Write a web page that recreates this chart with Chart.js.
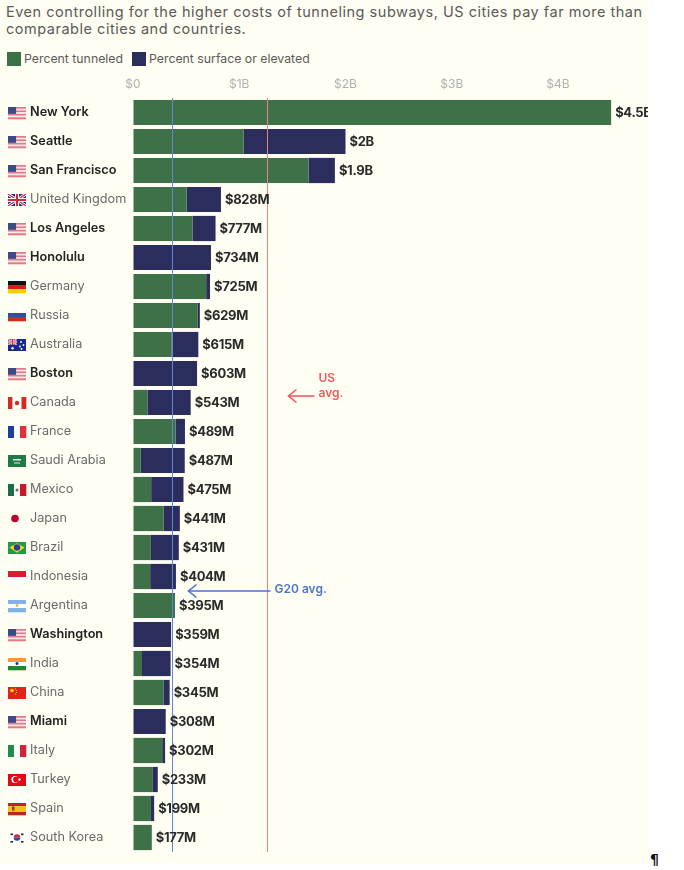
<!DOCTYPE html>
<html>
<head>
<meta charset="utf-8">
<script src="https://cdn.jsdelivr.net/npm/chart.js@4.4.1/dist/chart.umd.min.js"></script>
<style>
  html, body { margin: 0; padding: 0; background: #fff; }
  #wrap { position: relative; width: 648px; height: 863px; background: #fffef3; font-family: Inter, "Liberation Sans", sans-serif; overflow: hidden; }
  #title { position: absolute; left: 6px; top: 3px; font-size: 14.5px; letter-spacing: 0.52px; line-height: 17px; color: #5a5a5a; white-space: nowrap; }
  #legend { position: absolute; left: 7px; top: 51px; font-size: 12.3px; color: #5a5a5a; display: flex; align-items: center; }
  #legend span.sw { display: inline-block; width: 14px; height: 14px; margin-right: 3px; }
  #legend span.item { display: flex; align-items: center; margin-right: 9px; }
  #chartBox { position: absolute; left: 0; top: 70px; }
  #pil { position: absolute; left: 650px; top: 851px; font: bold 14px "DejaVu Sans", sans-serif; color: #111; }
</style>
</head>
<body>
<div id="wrap">
  <div id="title">Even controlling for the higher costs of tunneling subways, US cities pay far more than<br>comparable cities and countries.</div>
  <div id="legend">
    <span class="item"><span class="sw" style="background:#3e7148"></span>Percent tunneled</span>
    <span class="item"><span class="sw" style="background:#2b2d5c"></span>Percent surface or elevated</span>
  </div>
  <canvas id="chartBox" width="648" height="782"></canvas>
</div>
<div id="pil">¶</div>

<script>
// ---------- DATA (cost per km, $M) ----------
const cities = ["New York", "Seattle", "San Francisco", "United Kingdom", "Los Angeles", "Honolulu",
  "Germany", "Russia", "Australia", "Boston", "Canada", "France", "Saudi Arabia", "Mexico", "Japan",
  "Brazil", "Indonesia", "Argentina", "Washington", "India", "China", "Miami", "Italy", "Turkey",
  "Spain", "South Korea"];
const flags = ["us", "us", "us", "gb", "us", "us", "de", "ru", "au", "us", "ca", "fr", "sa", "mx", "jp",
  "br", "id", "ar", "us", "in", "cn", "us", "it", "tr", "es", "kr"];
const isUS = [true, true, true, false, true, true, false, false, false, true, false, false, false, false, false,
  false, false, false, true, false, false, true, false, false, false, false];
const totals = [4500, 2000, 1900, 828, 777, 734, 725, 629, 615, 603, 543, 489, 487, 475, 441,
  431, 404, 395, 359, 354, 345, 308, 302, 233, 199, 177];
const tunneledPct = [100, 52, 87, 61, 72, 0, 95, 97, 59, 0, 25, 82, 15, 36, 65,
  39, 40, 100, 0, 24, 83, 0, 91, 78, 85, 100];
const xTickValues = [0, 1000, 2000, 3000, 4000];
const xTickLabels = ["$0", "$1B", "$2B", "$3B", "$4B"];
const usAvg = 1260;
const g20Avg = 365;

const tunneled = totals.map((t, i) => t * tunneledPct[i] / 100);
const surface = totals.map((t, i) => t - tunneled[i]);

const FONT = 'Inter, "Liberation Sans", sans-serif';
const GREEN = "#3e7148";
const NAVY = "#2b2d5c";

function fmtTotal(v) {
  if (v >= 1000) return "$" + (v / 1000).toFixed(1).replace(/\.0$/, "") + "B";
  return "$" + v + "M";
}

// ---------- FLAGS ----------
function bandsH(ctx, x, y, w, h, cols, weights) {
  weights = weights || cols.map(() => 1);
  const sum = weights.reduce((a, b) => a + b, 0);
  let yy = y;
  cols.forEach((c, i) => {
    const hh = h * weights[i] / sum;
    ctx.fillStyle = c; ctx.fillRect(x, yy, w, hh + 0.3); yy += hh;
  });
}
function bandsV(ctx, x, y, w, h, cols, weights) {
  weights = weights || cols.map(() => 1);
  const sum = weights.reduce((a, b) => a + b, 0);
  let xx = x;
  cols.forEach((c, i) => {
    const ww = w * weights[i] / sum;
    ctx.fillStyle = c; ctx.fillRect(xx, y, ww + 0.3, h); xx += ww;
  });
}
function dot(ctx, cx, cy, r, c) {
  ctx.fillStyle = c; ctx.beginPath(); ctx.arc(cx, cy, r, 0, Math.PI * 2); ctx.fill();
}
function unionJack(ctx, x, y, w, h) {
  ctx.save();
  ctx.beginPath(); ctx.rect(x, y, w, h); ctx.clip();
  ctx.fillStyle = "#22307a"; ctx.fillRect(x, y, w, h);
  ctx.strokeStyle = "#fff"; ctx.lineWidth = h / 4;
  ctx.beginPath(); ctx.moveTo(x, y); ctx.lineTo(x + w, y + h); ctx.moveTo(x + w, y); ctx.lineTo(x, y + h); ctx.stroke();
  ctx.strokeStyle = "#cf2a3a"; ctx.lineWidth = h / 10;
  ctx.beginPath(); ctx.moveTo(x, y); ctx.lineTo(x + w, y + h); ctx.moveTo(x + w, y); ctx.lineTo(x, y + h); ctx.stroke();
  ctx.fillStyle = "#fff";
  ctx.fillRect(x + w / 2 - h / 6, y, h / 3, h); ctx.fillRect(x, y + h / 3, w, h / 3);
  ctx.fillStyle = "#cf2a3a";
  ctx.fillRect(x + w / 2 - h / 12, y, h / 6, h); ctx.fillRect(x, y + h / 2 - h / 12, w, h / 6);
  ctx.restore();
}
function drawFlag(ctx, code, x, cy) {
  const w = 18, h = 12, y = Math.round(cy - h / 2);
  switch (code) {
    case "us": {
      for (let s = 0; s < 7; s++) {
        ctx.fillStyle = s % 2 === 0 ? "#e27a85" : "#fbe9ea";
        ctx.fillRect(x, y + s * h / 7, w, h / 7 + 0.3);
      }
      ctx.fillStyle = "#3d4a85"; ctx.fillRect(x, y, w * 0.45, h * 4 / 7);
      break;
    }
    case "gb": unionJack(ctx, x, y, w, h); break;
    case "de": bandsH(ctx, x, y, w, h, ["#111", "#dd1c1c", "#ffcc00"]); break;
    case "ru": bandsH(ctx, x, y, w, h, ["#ffffff", "#2a4fb0", "#d52b1e"]); break;
    case "au": {
      ctx.fillStyle = "#1a2a8f"; ctx.fillRect(x, y, w, h);
      unionJack(ctx, x, y, w / 2, h / 2);
      dot(ctx, x + 4.5, y + 9.3, 1.2, "#fff");
      dot(ctx, x + 13, y + 3, 0.9, "#fff"); dot(ctx, x + 15.5, y + 6, 0.9, "#fff");
      dot(ctx, x + 12, y + 7.5, 0.9, "#fff"); dot(ctx, x + 13.5, y + 10, 0.9, "#fff");
      break;
    }
    case "ca": {
      bandsV(ctx, x, y, w, h, ["#d52b1e", "#ffffff", "#d52b1e"], [1, 2, 1]);
      dot(ctx, x + w / 2, y + h / 2, 2.2, "#d52b1e");
      break;
    }
    case "fr": bandsV(ctx, x, y, w, h, ["#1a3fa0", "#ffffff", "#e0303a"]); break;
    case "sa": {
      ctx.fillStyle = "#1f7a45"; ctx.fillRect(x, y, w, h);
      ctx.fillStyle = "rgba(255,255,255,0.85)"; ctx.fillRect(x + 5, y + 4, 8, 1.5); ctx.fillRect(x + 6, y + 7.5, 6, 1);
      break;
    }
    case "mx": {
      bandsV(ctx, x, y, w, h, ["#1a6e46", "#ffffff", "#c9182c"]);
      dot(ctx, x + w / 2, y + h / 2, 1.6, "#8a6a3a");
      break;
    }
    case "jp": dot(ctx, x + 7, cy, 3.8, "#bc002d"); break;
    case "br": {
      ctx.fillStyle = "#1f9a45"; ctx.fillRect(x, y, w, h);
      ctx.fillStyle = "#f7d81e"; ctx.beginPath();
      ctx.moveTo(x + 1.5, cy); ctx.lineTo(x + w / 2, y + 1.2); ctx.lineTo(x + w - 1.5, cy); ctx.lineTo(x + w / 2, y + h - 1.2);
      ctx.closePath(); ctx.fill();
      dot(ctx, x + w / 2, cy, 3.2, "#2a3f8f");
      break;
    }
    case "id": bandsH(ctx, x, y, w, h, ["#e0182b", "#ffffff"]); break;
    case "ar": {
      bandsH(ctx, x, y, w, h, ["#7fb3e6", "#ffffff", "#7fb3e6"]);
      dot(ctx, x + w / 2, cy, 1.4, "#e8b83a");
      break;
    }
    case "in": {
      bandsH(ctx, x, y, w, h, ["#f7993a", "#ffffff", "#1d8a2a"]);
      dot(ctx, x + w / 2, cy, 1.5, "#23307a");
      break;
    }
    case "cn": {
      ctx.fillStyle = "#e2231a"; ctx.fillRect(x, y, w, h);
      dot(ctx, x + 4, y + 3.5, 1.8, "#ffde00");
      dot(ctx, x + 7.5, y + 1.8, 0.6, "#ffde00"); dot(ctx, x + 8.5, y + 3.5, 0.6, "#ffde00");
      dot(ctx, x + 8.5, y + 5.5, 0.6, "#ffde00"); dot(ctx, x + 7.5, y + 7, 0.6, "#ffde00");
      break;
    }
    case "it": bandsV(ctx, x, y, w, h, ["#1f8a4a", "#ffffff", "#c8283a"]); break;
    case "tr": {
      ctx.fillStyle = "#e30a17"; ctx.fillRect(x, y, w, h);
      dot(ctx, x + 7, cy, 3.6, "#fff");
      dot(ctx, x + 8, cy, 2.9, "#e30a17");
      dot(ctx, x + 11.5, cy, 1.2, "#fff");
      break;
    }
    case "es": {
      bandsH(ctx, x, y, w, h, ["#c2202a", "#f4bf1f", "#c2202a"], [1, 2, 1]);
      ctx.fillStyle = "#a4302a"; ctx.fillRect(x + 4, cy - 2, 2.5, 4);
      break;
    }
    case "kr": {
      ctx.fillStyle = "#ffffff"; ctx.fillRect(x, y, w, h);
      ctx.fillStyle = "#cd2e3a"; ctx.beginPath(); ctx.arc(x + w / 2, cy, 3.3, Math.PI, 0); ctx.fill();
      ctx.fillStyle = "#2b4aa0"; ctx.beginPath(); ctx.arc(x + w / 2, cy, 3.3, 0, Math.PI); ctx.fill();
      ctx.fillStyle = "#222";
      ctx.fillRect(x + 2.5, y + 1.5, 2.5, 1.6); ctx.fillRect(x + 13, y + 1.5, 2.5, 1.6);
      ctx.fillRect(x + 2.5, y + 9, 2.5, 1.6); ctx.fillRect(x + 13, y + 9, 2.5, 1.6);
      break;
    }
  }
}

// ---------- ANNOTATIONS, VALUE LABELS, FLAGS ----------
function arrowLeft(ctx, x1, x2, y, color) {
  ctx.strokeStyle = color; ctx.lineWidth = 1.6;
  ctx.beginPath(); ctx.moveTo(x2, y); ctx.lineTo(x1, y); ctx.stroke();
  ctx.beginPath(); ctx.moveTo(x1 + 8, y - 6.5); ctx.lineTo(x1, y); ctx.lineTo(x1 + 8, y + 6.5); ctx.stroke();
}

const decorPlugin = {
  id: "decor",
  afterDatasetsDraw(chart) {
    const { ctx, chartArea, scales } = chart;
    const xs = scales.x, ys = scales.y;
    ctx.save();

    // average lines
    const usX = Math.round(xs.getPixelForValue(usAvg)) + 0.5;
    const gX = Math.round(xs.getPixelForValue(g20Avg)) + 0.5;
    ctx.lineWidth = 1;
    ctx.strokeStyle = "#ee7f80";
    ctx.beginPath(); ctx.moveTo(usX, chartArea.top); ctx.lineTo(usX, chartArea.bottom); ctx.stroke();
    ctx.strokeStyle = "#5f86d8";
    ctx.beginPath(); ctx.moveTo(gX, chartArea.top); ctx.lineTo(gX, chartArea.bottom); ctx.stroke();

    // US avg annotation (between Boston and Canada)
    const usMid = (ys.getPixelForValue(9) + ys.getPixelForValue(10)) / 2;
    ctx.fillStyle = "#ef5b5f";
    ctx.font = "600 12px " + FONT;
    ctx.textBaseline = "middle"; ctx.textAlign = "left";
    ctx.fillText("US", usX + 51, usMid - 10);
    ctx.fillText("avg.", usX + 51, usMid + 5);
    arrowLeft(ctx, usX + 21, usX + 47, usMid + 8, "#ef5b5f");

    // G20 avg annotation (between Indonesia and Argentina)
    const gMid = (ys.getPixelForValue(16) + ys.getPixelForValue(17)) / 2;
    ctx.fillStyle = "#4a72cf";
    ctx.fillText("G20 avg.", gX + 102, gMid - 2);
    arrowLeft(ctx, gX + 16, gX + 98, gMid, "#4a72cf");

    // value labels
    ctx.fillStyle = "#2a2a2a";
    ctx.font = "bold 13px " + FONT;
    ctx.letterSpacing = "-0.3px";
    totals.forEach((t, i) => {
      ctx.fillText(fmtTotal(t), xs.getPixelForValue(t) + 4, ys.getPixelForValue(i) + 0.5);
    });
    ctx.letterSpacing = "0px";

    // flags
    flags.forEach((f, i) => drawFlag(ctx, f, 8, ys.getPixelForValue(i)));
    ctx.restore();
  }
};

// ---------- CHART ----------
new Chart(document.getElementById("chartBox"), {
  type: "bar",
  data: {
    labels: cities,
    datasets: [
      { label: "Percent tunneled", data: tunneled, backgroundColor: GREEN, borderWidth: 0,
        barPercentage: 0.87, categoryPercentage: 1 },
      { label: "Percent surface or elevated", data: surface, backgroundColor: NAVY, borderWidth: 0,
        barPercentage: 0.87, categoryPercentage: 1 }
    ]
  },
  options: {
    indexAxis: "y",
    responsive: false,
    animation: false,
    devicePixelRatio: 1,
    layout: { padding: { left: 30, right: 5, top: 0, bottom: 0 } },
    plugins: { legend: { display: false }, tooltip: { enabled: false } },
    scales: {
      x: {
        position: "top",
        stacked: true,
        min: 0,
        max: 4800,
        bounds: "data",
        z: 1,
        border: { display: false },
        grid: { color: "rgba(255,255,255,0.45)", drawTicks: false, lineWidth: 1 },
        afterBuildTicks: s => { s.ticks = xTickValues.map(v => ({ value: v })); },
        ticks: {
          padding: 6,
          color: "#b0b0b0",
          font: { size: 12, family: FONT },
          callback: (v, i) => xTickLabels[i]
        },
        afterFit: s => { s.height = 28; s.paddingLeft = 0; s.paddingRight = 0; }
      },
      y: {
        stacked: true,
        grid: { display: false },
        border: { display: false },
        ticks: {
          autoSkip: false,
          crossAlign: "far",
          padding: 0,
          color: c => isUS[c.index] ? "#222222" : "#6a6a6a",
          font: c => ({ size: 12.7, family: FONT, weight: isUS[c.index] ? "600" : "400" })
        },
        afterFit: s => { s.width = 103; s.paddingTop = 0; s.paddingBottom = 0; }
      }
    }
  },
  plugins: [decorPlugin]
});
</script>
</body>
</html>
